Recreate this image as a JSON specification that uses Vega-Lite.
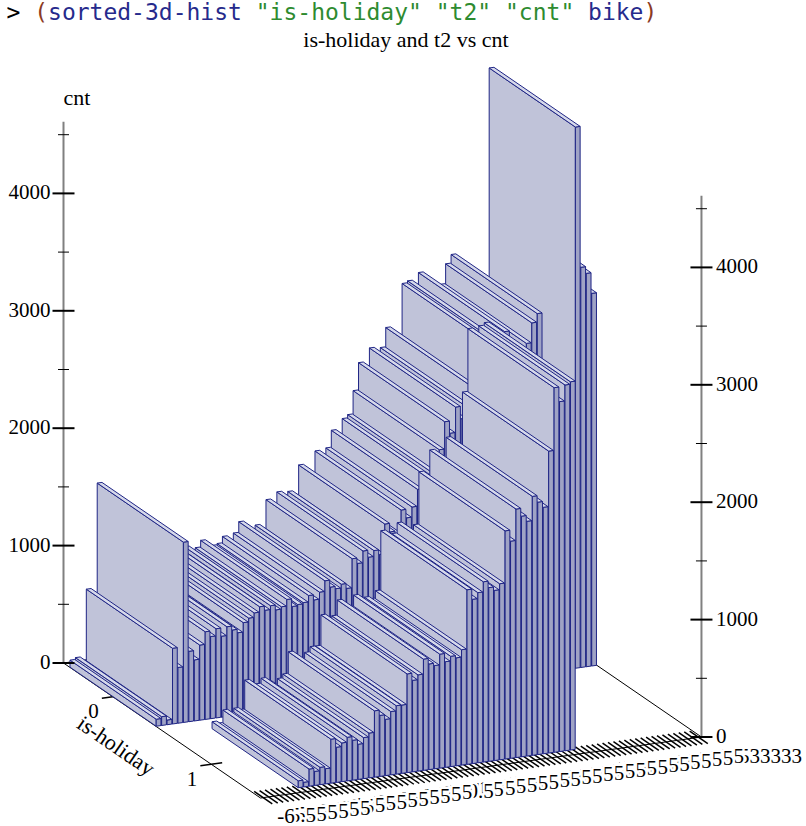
{
  "$schema": "https://vega.github.io/schema/vega-lite/v6.json",
  "width": 806,
  "height": 826,
  "autosize": "none",
  "padding": 0,
  "background": "white",
  "config": {
    "view": {"stroke": null},
    "text": {"font": "Liberation Serif", "fontSize": 21, "color": "black"}
  },
  "params": [
    {"name": "ox", "value": 63.5},
    {"name": "oy", "value": 663},
    {"name": "ux", "value": 197},
    {"name": "uy", "value": 135},
    {"name": "tx", "value": 5.444},
    {"name": "ty", "value": -0.753},
    {"name": "kz", "value": 0.1174},
    {"name": "nbin", "value": 81},
    {"name": "zmax", "value": 4611}
  ],
  "datasets": {
    "bars": [
      {"holiday": 0, "t2": 34.533333, "cnt": 3174}, {"holiday": 0, "t2": 33.5, "cnt": 3351}, {"holiday": 0, "t2": 33, "cnt": 3409},
      {"holiday": 0, "t2": 32.5, "cnt": 4610}, {"holiday": 0, "t2": 32, "cnt": 2430}, {"holiday": 0, "t2": 31.5, "cnt": 2300},
      {"holiday": 0, "t2": 31, "cnt": 2450}, {"holiday": 0, "t2": 30.5, "cnt": 2400}, {"holiday": 0, "t2": 30, "cnt": 2450},
      {"holiday": 0, "t2": 29.5, "cnt": 2500}, {"holiday": 0, "t2": 29, "cnt": 3066}, {"holiday": 0, "t2": 28.5, "cnt": 2993},
      {"holiday": 0, "t2": 28, "cnt": 2825}, {"holiday": 0, "t2": 27.5, "cnt": 2780}, {"holiday": 0, "t2": 27, "cnt": 2750},
      {"holiday": 0, "t2": 26.5, "cnt": 2800}, {"holiday": 0, "t2": 26, "cnt": 2951}, {"holiday": 0, "t2": 25.5, "cnt": 2780},
      {"holiday": 0, "t2": 25, "cnt": 2893}, {"holiday": 0, "t2": 24.5, "cnt": 2877}, {"holiday": 0, "t2": 24, "cnt": 2380},
      {"holiday": 0, "t2": 23.5, "cnt": 2420}, {"holiday": 0, "t2": 23, "cnt": 2521}, {"holiday": 0, "t2": 22.5, "cnt": 2357},
      {"holiday": 0, "t2": 22, "cnt": 2260}, {"holiday": 0, "t2": 21.5, "cnt": 2366}, {"holiday": 0, "t2": 21, "cnt": 2150},
      {"holiday": 0, "t2": 20.5, "cnt": 2254}, {"holiday": 0, "t2": 20, "cnt": 2022}, {"holiday": 0, "t2": 19.5, "cnt": 1824},
      {"holiday": 0, "t2": 19, "cnt": 1797}, {"holiday": 0, "t2": 18.5, "cnt": 1620}, {"holiday": 0, "t2": 18, "cnt": 1710},
      {"holiday": 0, "t2": 17.5, "cnt": 1566}, {"holiday": 0, "t2": 17, "cnt": 1480}, {"holiday": 0, "t2": 16.5, "cnt": 1553},
      {"holiday": 0, "t2": 16, "cnt": 1360}, {"holiday": 0, "t2": 15.5, "cnt": 1380}, {"holiday": 0, "t2": 15, "cnt": 1453},
      {"holiday": 0, "t2": 14.5, "cnt": 1200}, {"holiday": 0, "t2": 14, "cnt": 1240}, {"holiday": 0, "t2": 13.5, "cnt": 1190},
      {"holiday": 0, "t2": 13, "cnt": 1249}, {"holiday": 0, "t2": 12.5, "cnt": 1150}, {"holiday": 0, "t2": 12, "cnt": 1196},
      {"holiday": 0, "t2": 11.5, "cnt": 950}, {"holiday": 0, "t2": 11, "cnt": 992}, {"holiday": 0, "t2": 10.5, "cnt": 960},
      {"holiday": 0, "t2": 10, "cnt": 980}, {"holiday": 0, "t2": 9.5, "cnt": 1040}, {"holiday": 0, "t2": 9, "cnt": 950},
      {"holiday": 0, "t2": 8.5, "cnt": 890}, {"holiday": 0, "t2": 8, "cnt": 934}, {"holiday": 0, "t2": 7.5, "cnt": 880},
      {"holiday": 0, "t2": 7, "cnt": 870}, {"holiday": 0, "t2": 6.5, "cnt": 860}, {"holiday": 0, "t2": 6, "cnt": 926},
      {"holiday": 0, "t2": 5.5, "cnt": 870}, {"holiday": 0, "t2": 5, "cnt": 850}, {"holiday": 0, "t2": 4.5, "cnt": 892},
      {"holiday": 0, "t2": 4, "cnt": 860}, {"holiday": 0, "t2": 3.5, "cnt": 896}, {"holiday": 0, "t2": 3, "cnt": 850},
      {"holiday": 0, "t2": 2.5, "cnt": 812}, {"holiday": 0, "t2": 2, "cnt": 780}, {"holiday": 0, "t2": 1.5, "cnt": 700},
      {"holiday": 0, "t2": 1, "cnt": 730}, {"holiday": 0, "t2": 0.5, "cnt": 764}, {"holiday": 0, "t2": 0, "cnt": 690},
      {"holiday": 0, "t2": -0.5, "cnt": 760}, {"holiday": 0, "t2": -1, "cnt": 700}, {"holiday": 0, "t2": -1.5, "cnt": 747},
      {"holiday": 0, "t2": -2, "cnt": 640}, {"holiday": 0, "t2": -2.5, "cnt": 520}, {"holiday": 0, "t2": -3, "cnt": 600},
      {"holiday": 0, "t2": -3.5, "cnt": 1536}, {"holiday": 0, "t2": -4, "cnt": 475}, {"holiday": 0, "t2": -4.5, "cnt": 645},
      {"holiday": 0, "t2": -5, "cnt": 40}, {"holiday": 0, "t2": -5.5, "cnt": 75}, {"holiday": 0, "t2": -6, "cnt": 60},
      {"holiday": 1, "t2": 23, "cnt": 3137}, {"holiday": 1, "t2": 22.5, "cnt": 3116}, {"holiday": 1, "t2": 22, "cnt": 2981},
      {"holiday": 1, "t2": 21.5, "cnt": 3106}, {"holiday": 1, "t2": 21, "cnt": 2572}, {"holiday": 1, "t2": 20.5, "cnt": 2100},
      {"holiday": 1, "t2": 20, "cnt": 2150}, {"holiday": 1, "t2": 19.5, "cnt": 2206}, {"holiday": 1, "t2": 19, "cnt": 2000},
      {"holiday": 1, "t2": 18.5, "cnt": 2050}, {"holiday": 1, "t2": 18, "cnt": 2117}, {"holiday": 1, "t2": 17.5, "cnt": 1850},
      {"holiday": 1, "t2": 17, "cnt": 1944}, {"holiday": 1, "t2": 16.5, "cnt": 1500}, {"holiday": 1, "t2": 16, "cnt": 1450},
      {"holiday": 1, "t2": 15.5, "cnt": 1480}, {"holiday": 1, "t2": 15, "cnt": 1536}, {"holiday": 1, "t2": 14.5, "cnt": 1450},
      {"holiday": 1, "t2": 14, "cnt": 1400}, {"holiday": 1, "t2": 13.5, "cnt": 1487}, {"holiday": 1, "t2": 13, "cnt": 983},
      {"holiday": 1, "t2": 12.5, "cnt": 920}, {"holiday": 1, "t2": 12, "cnt": 940}, {"holiday": 1, "t2": 11.5, "cnt": 900},
      {"holiday": 1, "t2": 11, "cnt": 971}, {"holiday": 1, "t2": 10.5, "cnt": 880}, {"holiday": 1, "t2": 10, "cnt": 900},
      {"holiday": 1, "t2": 9.5, "cnt": 948}, {"holiday": 1, "t2": 9, "cnt": 820}, {"holiday": 1, "t2": 8.5, "cnt": 780},
      {"holiday": 1, "t2": 8, "cnt": 841}, {"holiday": 1, "t2": 7.5, "cnt": 582}, {"holiday": 1, "t2": 7, "cnt": 583},
      {"holiday": 1, "t2": 6.5, "cnt": 540}, {"holiday": 1, "t2": 6, "cnt": 480}, {"holiday": 1, "t2": 5.5, "cnt": 520},
      {"holiday": 1, "t2": 5, "cnt": 565}, {"holiday": 1, "t2": 4.5, "cnt": 382}, {"holiday": 1, "t2": 4, "cnt": 350},
      {"holiday": 1, "t2": 3.5, "cnt": 300}, {"holiday": 1, "t2": 3, "cnt": 340}, {"holiday": 1, "t2": 2.5, "cnt": 372},
      {"holiday": 1, "t2": 2, "cnt": 330}, {"holiday": 1, "t2": 1.5, "cnt": 300}, {"holiday": 1, "t2": 1, "cnt": 375},
      {"holiday": 1, "t2": 0.5, "cnt": 130}, {"holiday": 1, "t2": 0, "cnt": 148}, {"holiday": 1, "t2": -0.5, "cnt": 120},
      {"holiday": 1, "t2": -1, "cnt": 146}, {"holiday": 1, "t2": -1.5, "cnt": 40}, {"holiday": 1, "t2": -2, "cnt": 59}
    ],
    "zticks": [
      {"cnt": 0}, {"cnt": 500}, {"cnt": 1000}, {"cnt": 1500}, {"cnt": 2000},
      {"cnt": 2500}, {"cnt": 3000}, {"cnt": 3500}, {"cnt": 4000}, {"cnt": 4500}
    ]
  },
  "encoding": {
    "x": {"field": "sx", "type": "quantitative", "scale": {"domain": [0, 806], "nice": false, "zero": false}, "axis": null},
    "y": {"field": "sy", "type": "quantitative", "scale": {"domain": [0, 826], "reverse": true, "nice": false, "zero": false}, "axis": null}
  },
  "layer": [
    {
      "data": {"values": [{"a": "O", "b": "F"}, {"a": "F", "b": "R"}, {"a": "R", "b": "B"}, {"a": "B", "b": "O"}]},
      "transform": [
        {"calculate": "datum.a == 'F' || datum.a == 'R' ? 1 : 0", "as": "ua"},
        {"calculate": "datum.a == 'R' || datum.a == 'B' ? nbin : 0", "as": "va"},
        {"calculate": "datum.b == 'F' || datum.b == 'R' ? 1 : 0", "as": "ub"},
        {"calculate": "datum.b == 'R' || datum.b == 'B' ? nbin : 0", "as": "vb"},
        {"calculate": "ox + ux * datum.ua + tx * datum.va", "as": "sx"},
        {"calculate": "oy + uy * datum.ua + ty * datum.va", "as": "sy"},
        {"calculate": "ox + ux * datum.ub + tx * datum.vb", "as": "sx2"},
        {"calculate": "oy + uy * datum.ub + ty * datum.vb", "as": "sy2"}
      ],
      "mark": {"type": "rule", "color": "black", "strokeWidth": 1},
      "encoding": {"x2": {"field": "sx2"}, "y2": {"field": "sy2"}}
    },
    {
      "data": {"values": [{"holiday": 0}, {"holiday": 1}]},
      "transform": [
        {"calculate": "datum.holiday * 0.5 + 0.25", "as": "hu"},
        {"calculate": "ox + ux * datum.hu - 2 * tx", "as": "sx"},
        {"calculate": "oy + uy * datum.hu - 2 * ty", "as": "sy"},
        {"calculate": "ox + ux * datum.hu + 2 * tx", "as": "sx2"},
        {"calculate": "oy + uy * datum.hu + 2 * ty", "as": "sy2"}
      ],
      "mark": {"type": "rule", "color": "black", "strokeWidth": 1.5},
      "encoding": {"x2": {"field": "sx2"}, "y2": {"field": "sy2"}}
    },
    {
      "data": {"name": "bars"},
      "transform": [
        {"window": [{"op": "dense_rank", "as": "rk"}], "sort": [{"field": "t2", "order": "ascending"}]},
        {"filter": "datum.holiday == 0"},
        {"calculate": "datum.rk - 0.5", "as": "vc"},
        {"calculate": "ox + ux * 0.954 + tx * datum.vc", "as": "sx"},
        {"calculate": "oy + uy * 0.954 + ty * datum.vc", "as": "sy"},
        {"calculate": "ox + ux * 1.046 + tx * datum.vc", "as": "sx2"},
        {"calculate": "oy + uy * 1.046 + ty * datum.vc", "as": "sy2"}
      ],
      "mark": {"type": "rule", "color": "black", "strokeWidth": 1.5},
      "encoding": {"x2": {"field": "sx2"}, "y2": {"field": "sy2"}}
    },
    {
      "data": {"name": "bars"},
      "transform": [
        {"window": [{"op": "dense_rank", "as": "rk"}], "sort": [{"field": "t2", "order": "ascending"}]},
        {"calculate": "datum.rk - 1", "as": "idx"},
        {"calculate": "[0, 1, 2, 3, 4, 5, 6, 7, 8, 9, 10, 11, 12, 13, 14]", "as": "k"},
        {"flatten": ["k"]},
        {"calculate": "floor(datum.k / 5)", "as": "face"},
        {"calculate": "datum.k % 5", "as": "ord"},
        {"calculate": "datum.ord % 4", "as": "c"},
        {"calculate": "datum.holiday * 0.5 + 0.03125", "as": "u0"},
        {"calculate": "datum.u0 + 0.4375", "as": "u1"},
        {"calculate": "datum.idx + 0.0625", "as": "v0"},
        {"calculate": "datum.idx + 0.9375", "as": "v1"},
        {"calculate": "datum.face == 1 ? datum.u1 : ((datum.c == 1 || datum.c == 2) ? datum.u1 : datum.u0)", "as": "pu"},
        {"calculate": "datum.face == 0 ? datum.v0 : (datum.face == 1 ? ((datum.c == 1 || datum.c == 2) ? datum.v1 : datum.v0) : (datum.c >= 2 ? datum.v1 : datum.v0))", "as": "pv"},
        {"calculate": "(datum.face == 2 || datum.c >= 2) ? datum.cnt : 0", "as": "pz"},
        {"calculate": "ox + ux * datum.pu + tx * datum.pv", "as": "sx"},
        {"calculate": "oy + uy * datum.pu + ty * datum.pv - kz * datum.pz", "as": "sy"},
        {"calculate": "datum.holiday + '-' + datum.idx + '-' + datum.face", "as": "fid"},
        {"calculate": "['side', 'front', 'top'][datum.face]", "as": "part"}
      ],
      "mark": {"type": "line", "stroke": "#1f2585", "strokeWidth": 1, "strokeJoin": "round"},
      "encoding": {
        "detail": {"field": "fid"},
        "order": {"field": "ord", "type": "quantitative"},
        "fill": {
          "field": "part",
          "type": "nominal",
          "scale": {"domain": ["side", "front", "top"], "range": ["#c0c3d9", "#9fa3c5", "#d6d9eb"]},
          "legend": null
        }
      }
    },
    {
      "data": {"values": [{"side": "left"}, {"side": "right"}]},
      "transform": [
        {"calculate": "datum.side == 'right' ? 1 : 0", "as": "cu"},
        {"calculate": "datum.side == 'right' ? nbin : 0", "as": "cv"},
        {"calculate": "ox + ux * datum.cu + tx * datum.cv", "as": "sx"},
        {"calculate": "oy + uy * datum.cu + ty * datum.cv", "as": "sy"},
        {"calculate": "datum.sy - kz * zmax", "as": "sy2"}
      ],
      "mark": {"type": "rule", "color": "#808080", "strokeWidth": 2},
      "encoding": {"y2": {"field": "sy2"}}
    },
    {
      "data": {"name": "zticks"},
      "transform": [
        {"calculate": "['left', 'right']", "as": "side"},
        {"flatten": ["side"]},
        {"calculate": "datum.side == 'right' ? 1 : 0", "as": "cu"},
        {"calculate": "datum.side == 'right' ? nbin : 0", "as": "cv"},
        {"calculate": "datum.cnt % 1000 == 0 ? 11 : 5.5", "as": "len"},
        {"calculate": "ox + ux * datum.cu + tx * datum.cv - datum.len", "as": "sx"},
        {"calculate": "ox + ux * datum.cu + tx * datum.cv + datum.len", "as": "sx2"},
        {"calculate": "oy + uy * datum.cu + ty * datum.cv - kz * datum.cnt", "as": "sy"}
      ],
      "mark": {"type": "rule", "color": "black"},
      "encoding": {
        "x2": {"field": "sx2"},
        "strokeWidth": {"condition": {"test": "datum.cnt % 1000 == 0", "value": 2}, "value": 1}
      }
    },
    {
      "data": {"name": "zticks"},
      "transform": [
        {"filter": "datum.cnt % 1000 == 0"},
        {"calculate": "ox", "as": "sx"},
        {"calculate": "oy - kz * datum.cnt", "as": "sy"}
      ],
      "mark": {"type": "text", "align": "right", "baseline": "middle", "dx": -13},
      "encoding": {"text": {"field": "cnt", "type": "quantitative", "format": "d"}}
    },
    {
      "data": {"name": "zticks"},
      "transform": [
        {"filter": "datum.cnt % 1000 == 0"},
        {"calculate": "ox + ux + tx * nbin", "as": "sx"},
        {"calculate": "oy + uy + ty * nbin - kz * datum.cnt", "as": "sy"}
      ],
      "mark": {"type": "text", "align": "left", "baseline": "middle", "dx": 14.5},
      "encoding": {"text": {"field": "cnt", "type": "quantitative", "format": "d"}}
    },
    {
      "data": {"values": [{"label": "cnt"}]},
      "transform": [
        {"calculate": "ox", "as": "sx"},
        {"calculate": "oy - kz * zmax", "as": "sy"}
      ],
      "mark": {"type": "text", "align": "left", "baseline": "alphabetic", "dy": -17, "fontSize": 22},
      "encoding": {"text": {"field": "label"}}
    },
    {
      "data": {"name": "bars"},
      "transform": [
        {"window": [{"op": "dense_rank", "as": "rk"}], "sort": [{"field": "t2", "order": "ascending"}]},
        {"filter": "datum.holiday == 0"},
        {"calculate": "datum.rk - 0.5", "as": "vc"},
        {"calculate": "'' + datum.t2", "as": "lab"},
        {"calculate": "ox + ux * 1.046 + tx * datum.vc", "as": "sx"},
        {"calculate": "oy + uy * 1.046 + ty * datum.vc", "as": "sy"},
        {"calculate": "['bg', 'fg']", "as": "pass"},
        {"flatten": ["pass"]},
        {"calculate": "datum.pass == 'bg' ? 0 : 1", "as": "pk"}
      ],
      "mark": {"type": "text", "align": "left", "baseline": "top", "dx": 5, "dy": 2, "stroke": "white", "strokeJoin": "round"},
      "encoding": {
        "text": {"field": "lab"},
        "order": [{"field": "rk", "type": "quantitative", "sort": "descending"}, {"field": "pk", "type": "quantitative"}],
        "color": {"condition": {"test": "datum.pass == 'bg'", "value": "white"}, "value": "black"},
        "strokeWidth": {"condition": {"test": "datum.pass == 'bg'", "value": 5}, "value": 0}
      }
    },
    {
      "data": {"values": [{"holiday": 0}, {"holiday": 1}]},
      "transform": [
        {"calculate": "datum.holiday * 0.5 + 0.25", "as": "hu"},
        {"calculate": "ox + ux * datum.hu - 2 * tx", "as": "sx"},
        {"calculate": "oy + uy * datum.hu - 2 * ty", "as": "sy"},
        {"calculate": "'' + datum.holiday", "as": "lab"}
      ],
      "mark": {"type": "text", "align": "right", "baseline": "top", "dx": -3, "dy": 3},
      "encoding": {"text": {"field": "lab"}}
    },
    {
      "data": {"values": [{"label": "is-holiday"}]},
      "transform": [
        {"calculate": "ox + ux * 0.556 - 10.5 * tx", "as": "sx"},
        {"calculate": "oy + uy * 0.556 - 10.5 * ty", "as": "sy"}
      ],
      "mark": {"type": "text", "align": "center", "baseline": "middle", "angle": 34.4, "fontSize": 22},
      "encoding": {"text": {"field": "label"}}
    },
    {
      "data": {"values": [{"label": "is-holiday and t2 vs cnt"}]},
      "transform": [
        {"calculate": "406", "as": "sx"},
        {"calculate": "47", "as": "sy"}
      ],
      "mark": {"type": "text", "align": "center", "baseline": "alphabetic", "fontSize": 22},
      "encoding": {"text": {"field": "label"}}
    },
    {
      "data": {
        "values": [
          {"kind": "prompt", "txt": ">"},
          {"kind": "paren", "txt": "\u200b\u00a0\u00a0(\u00a0\u00a0\u00a0\u00a0\u00a0\u00a0\u00a0\u00a0\u00a0\u00a0\u00a0\u00a0\u00a0\u00a0\u00a0\u00a0\u00a0\u00a0\u00a0\u00a0\u00a0\u00a0\u00a0\u00a0\u00a0\u00a0\u00a0\u00a0\u00a0\u00a0\u00a0\u00a0\u00a0\u00a0\u00a0\u00a0\u00a0\u00a0\u00a0\u00a0\u00a0\u00a0\u00a0)"},
          {"kind": "symbol", "txt": "\u200b\u00a0\u00a0\u00a0sorted-3d-hist\u00a0\u00a0\u00a0\u00a0\u00a0\u00a0\u00a0\u00a0\u00a0\u00a0\u00a0\u00a0\u00a0\u00a0\u00a0\u00a0\u00a0\u00a0\u00a0\u00a0\u00a0\u00a0\u00a0\u00a0\u00a0bike"},
          {"kind": "string", "txt": "\u200b\u00a0\u00a0\u00a0\u00a0\u00a0\u00a0\u00a0\u00a0\u00a0\u00a0\u00a0\u00a0\u00a0\u00a0\u00a0\u00a0\u00a0\u00a0\"is-holiday\"\u00a0\"t2\"\u00a0\"cnt\""}
        ]
      },
      "transform": [
        {"calculate": "6.5", "as": "sx"},
        {"calculate": "20", "as": "sy"}
      ],
      "mark": {"type": "text", "align": "left", "baseline": "alphabetic", "font": "DejaVu Sans Mono", "fontSize": 23},
      "encoding": {
        "text": {"field": "txt"},
        "color": {
          "field": "kind",
          "type": "nominal",
          "scale": {"domain": ["prompt", "paren", "symbol", "string"], "range": ["#000000", "#8b3a24", "#262a8c", "#2e8b30"]},
          "legend": null
        }
      }
    }
  ]
}
